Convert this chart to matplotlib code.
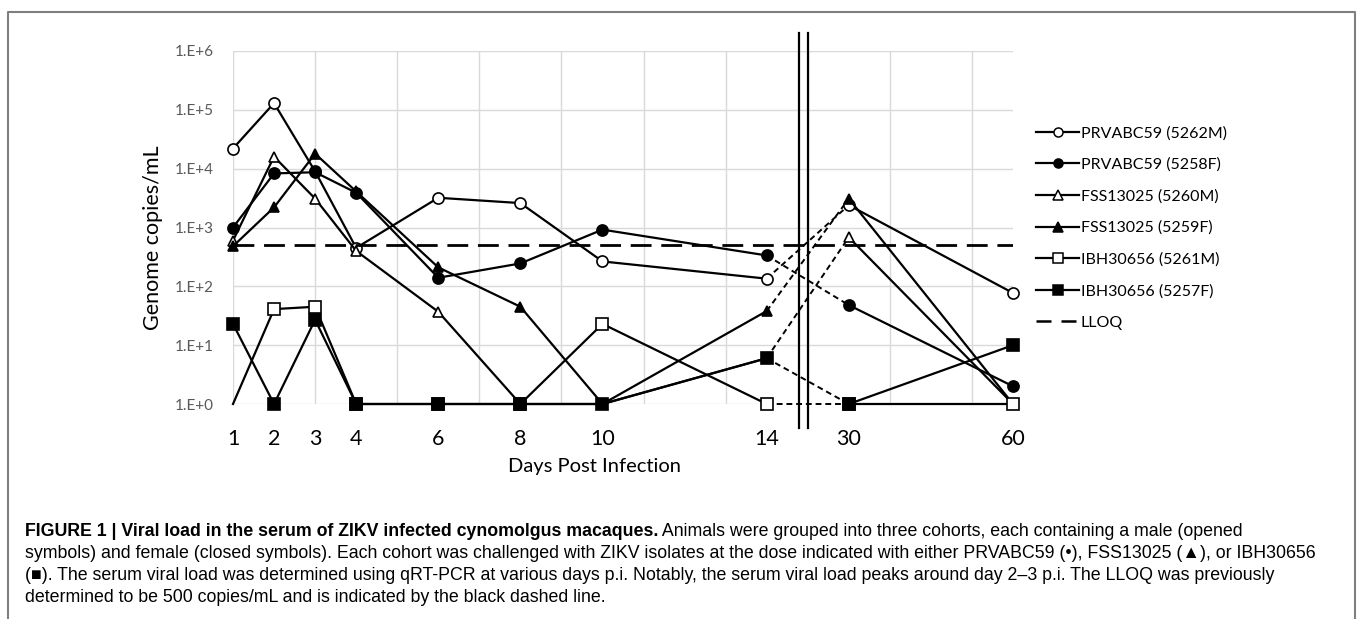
import numpy as np
import matplotlib
matplotlib.use("Agg")
import matplotlib.pyplot as plt
from matplotlib.lines import Line2D

plt.rcParams["font.family"] = ["Lato", "DejaVu Sans"]

# === Data ===
days = [1, 2, 3, 4, 6, 8, 10, 14, 30, 60]
series_names = ["PRVABC59 (5262M)", "PRVABC59 (5258F)", "FSS13025 (5260M)",
                "FSS13025 (5259F)", "IBH30656 (5261M)", "IBH30656 (5257F)"]
v_5262M = [2.2e4, 1.3e5, 9.0e3, 450, 3.2e3, 2.6e3, 265, 135, 2.4e3, 77]
v_5258F = [1000, 8.3e3, 8.7e3, 3.9e3, 140, 245, 920, 335, 48, 2.0]
v_5260M = [600, 1.6e4, 3.1e3, 400, 37, 1, 1, 6, 680, 1]
v_5259F = [480, 2.2e3, 1.8e4, 4.1e3, 210, 45, 1, 38, 3.1e3, 1]
v_5261M = [1, 41, 45, 1, 1, 1, 23, 1, 1, 1]
v_5257F = [23, 1, 27, 1, 1, 1, 1, 6, 1, 10]
values = [v_5262M, v_5258F, v_5260M, v_5259F, v_5261M, v_5257F]
lloq = 500

markers = ["o", "o", "^", "^", "s", "s"]
filled = [False, True, False, True, False, True]
msizes = [8, 8, 7.5, 7, 8, 8.5]

# broken day axis: days 1..14 evenly, then 30 and 60
knot_days = [1, 14, 30, 60]
knot_pos = [0, 13, 15, 19]
fwd = lambda d: np.interp(d, knot_days, knot_pos)
inv = lambda p: np.interp(p, knot_pos, knot_days)

fig = plt.figure(figsize=(13.58, 6.19), dpi=100)
W, H = 1358, 619
ax = fig.add_axes([233 / W, 1 - 404 / H, 780 / W, 353 / H])
ax.set_xscale("function", functions=(fwd, inv))
ax.set_yscale("log")
ax.set_xlim(1, 60)
ax.set_ylim(1, 1e6)

for name, vals, m, f, ms in zip(series_names, values, markers, filled, msizes):
    mfc = "black" if f else "white"
    kw = dict(color="black", lw=1.6, marker=m, ms=ms, mfc=mfc, mec="black",
              mew=1.2, clip_on=False, zorder=3)
    n_early = days.index(14) + 1
    every = list(range(1, n_early)) if name == "IBH30656 (5261M)" else None
    ax.plot(days[:n_early], vals[:n_early], markevery=every, **kw)
    ax.plot(days[n_early - 1:n_early + 1], vals[n_early - 1:n_early + 1],
            color="black", lw=1.4, ls=(0, (3, 2)), clip_on=False, zorder=2)
    ax.plot(days[n_early:], vals[n_early:], **kw)

ax.axhline(lloq, color="black", lw=2, dashes=(7.5, 3.5), zorder=4)

# break marks
trans = ax.get_xaxis_transform()
for p in [13.78, 14.0]:
    ax.plot([inv(p)] * 2, [-0.068, 1.051], color="black", lw=1.6,
            transform=trans, clip_on=False, zorder=5)

# grid
ax.xaxis.remove_overlapping_locs = False
ax.set_xticks(days)
ax.set_xticklabels([str(d) for d in days], fontsize=15.5, color="black")
ax.set_xticks(inv(np.arange(0, 19, 2)), minor=True)
ax.set_yticks([10.0 ** k for k in range(7)])
ax.set_yticklabels([f"1.E+{k}" for k in range(7)], fontsize=11, color="#595959")
ax.yaxis.set_minor_locator(matplotlib.ticker.NullLocator())
ax.tick_params(axis="both", which="both", length=0)
ax.tick_params(axis="x", pad=18)
ax.tick_params(axis="y", pad=14)
ax.grid(True, axis="y", which="major", color="#d9d9d9", lw=1)
ax.grid(True, axis="x", which="minor", color="#d9d9d9", lw=1)
ax.set_axisbelow(True)
for s in ax.spines.values():
    s.set_visible(False)

ax.set_ylabel("Genome copies/mL", fontsize=15.5)
ax.yaxis.set_label_coords(-0.09, 0.47)
ax.set_xlabel("Days Post Infection", fontsize=14.5)
ax.xaxis.label.set_va("center")
ax.xaxis.set_label_coords(0.464, -0.178)

handles = []
for name, m, f in zip(series_names, markers, filled):
    handles.append(Line2D([], [], color="black", lw=1.6, marker=m, ms=6.5,
                          mfc="black" if f else "white", mec="black", mew=1.1))
handles.append(Line2D([], [], color="black", lw=1.8, dashes=(6, 4)))
fig.legend(handles, series_names + ["LLOQ"], loc="upper left",
           bbox_to_anchor=(1036 / W, 1 - 126 / H), frameon=False, fontsize=11.5,
           handlelength=2.7, handletextpad=0.1, labelspacing=1.08, borderpad=0,
           borderaxespad=0)

# caption and frame
cap = fig.add_axes([0, 0, 1, 1], zorder=-1)
cap.set_xlim(0, W)
cap.set_ylim(H, 0)
cap.axis("off")
cap.plot([8, 8, 1355, 1355], [H + 5, 12, 12, H + 5], color="#7f7f7f", lw=1.5,
         clip_on=False)

cfam = ["Liberation Sans", "DejaVu Sans"]
csize = 12.8
x0 = 25
bold = cap.text(x0, 531, "FIGURE 1 | Viral load in the serum of ZIKV infected cynomolgus macaques.",
                fontsize=csize, fontweight="bold", family=cfam, va="center", ha="left")
cap.annotate(" Animals were grouped into three cohorts, each containing a male (opened",
             xy=(1, 0.5), xycoords=bold, va="center", ha="left", fontsize=csize, family=cfam)
lines = ["symbols) and female (closed symbols). Each cohort was challenged with ZIKV isolates at the dose indicated with either PRVABC59 (\u2022), FSS13025 (\u25b2), or IBH30656",
         "(\u25a0). The serum viral load was determined using qRT-PCR at various days p.i. Notably, the serum viral load peaks around day 2\u20133 p.i. The LLOQ was previously",
         "determined to be 500 copies/mL and is indicated by the black dashed line."]
for i, t in enumerate(lines):
    cap.text(x0, 553 + 22 * i, t, fontsize=csize, family=cfam, va="center", ha="left")

plt.savefig("out.png", dpi=100, facecolor="white")
plt.close()
